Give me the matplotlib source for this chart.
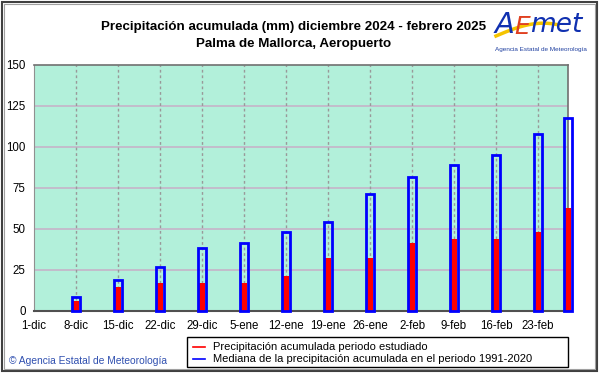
import matplotlib
matplotlib.use("Agg")
import matplotlib.pyplot as plt
from matplotlib.patches import Rectangle
from matplotlib.lines import Line2D
import numpy as np

plt.rcParams['font.family'] = ['Liberation Sans', 'DejaVu Sans']

# ---- data ----
tick_days = [0, 7, 14, 21, 28, 35, 42, 49, 56, 63, 70, 77, 84]
tick_labels = ["1-dic", "8-dic", "15-dic", "22-dic", "29-dic", "5-ene", "12-ene",
               "19-ene", "26-ene", "2-feb", "9-feb", "16-feb", "23-feb"]
bar_days = [7, 14, 21, 28, 35, 42, 49, 56, 63, 70, 77, 84, 89]
observed = [6.1, 14.4, 16.7, 16.7, 16.9, 21.1, 32.3, 32.3, 41.3, 43.7, 43.7, 47.8, 62.6]
median = [8.6, 19.0, 26.7, 38.3, 41.4, 47.7, 54.0, 70.9, 81.6, 89.0, 95.1, 107.7, 117.8]
yticks = [0, 25, 50, 75, 100, 125, 150]

W, H = 601, 374
fig = plt.figure(figsize=(W / 100, H / 100), dpi=100)
fig.patch.set_facecolor("white")

def fx(px):
    return px / W

def fy(py):
    return 1 - py / H

ax = fig.add_axes([fx(34), fy(310.7), fx(568) - fx(34), fy(64.7) - fy(310.7)])
ax.set_facecolor("#B2F0DA")
ax.set_xlim(0, 89)
ax.set_ylim(0, 150)

# grid
for y in yticks[1:-1]:
    ax.axhline(y, color="#C4B8CA", lw=1.3, zorder=1)
for d in tick_days[1:]:
    ax.axvline(d, color="#999999", lw=1.0, ls=(0, (2, 2)), zorder=1)

# bars
ax.bar(bar_days, observed, width=1.0, color="#FF0000", zorder=3, clip_on=False)
ax.bar(bar_days, median, width=1.35, facecolor="none", edgecolor="#0000FF",
       lw=2.0, zorder=4, clip_on=False)

ax.set_xticks(tick_days)
ax.set_xticklabels(tick_labels, fontsize=8.3)
ax.set_yticks(yticks)
ax.set_yticklabels([str(v) for v in yticks], fontsize=8.3)
ax.tick_params(length=0, pad=6)
ax.tick_params(axis="x", pad=7)
for s in ["top", "right"]:
    ax.spines[s].set_color("#707070")
    ax.spines[s].set_linewidth(1.2)
ax.spines["left"].set_color("#909090")
ax.spines["bottom"].set_color("#505050")
ax.spines["bottom"].set_linewidth(1.5)

# title
fig.text(fx(294), fy(27), "Precipitación acumulada (mm) diciembre 2024 - febrero 2025",
         ha="center", va="center", fontsize=9.6, fontweight="bold")
fig.text(fx(294), fy(44), "Palma de Mallorca, Aeropuerto",
         ha="center", va="center", fontsize=9.6, fontweight="bold")

# logo
fig.text(fx(495), fy(25), "A", color="#1030B0", fontsize=21, style="italic",
         ha="left", va="center", family="DejaVu Sans")
fig.text(fx(514), fy(27), "E", color="#E04020", fontsize=18, style="italic",
         ha="left", va="center", family="DejaVu Sans")
fig.text(fx(530), fy(25), "met", color="#1030B0", fontsize=19, style="italic",
         ha="left", va="center", family="DejaVu Sans")
t = np.linspace(0, 1, 40)
lx = 496 + 62 * t
ly = 36 - 16 * np.sin(t * np.pi * 0.6) + 4 * t
fig.add_artist(Line2D(fx(lx), fy(ly), color="#F5C400", lw=2.5))
fig.text(fx(541), fy(50), "Agencia Estatal de Meteorología", color="#2040A0",
         fontsize=4.6, ha="center", va="center")

# copyright
fig.text(fx(9), fy(361), "© Agencia Estatal de Meteorología", color="#3050B0",
         fontsize=7.4, ha="left", va="center")

# legend box
fig.add_artist(Rectangle((fx(187), fy(367)), fx(568) - fx(187), fy(337) - fy(367),
                         transform=fig.transFigure, facecolor="white",
                         edgecolor="black", lw=1.0))
fig.add_artist(Line2D([fx(193), fx(205)], [fy(347), fy(347)], color="#FF0000", lw=1.2))
fig.add_artist(Line2D([fx(193), fx(205)], [fy(359), fy(359)], color="#0000FF", lw=1.2))
fig.text(fx(213), fy(347), "Precipitación acumulada periodo estudiado",
         fontsize=8.0, ha="left", va="center")
fig.text(fx(213), fy(359), "Mediana de la precipitación acumulada en el periodo 1991-2020",
         fontsize=8.0, ha="left", va="center")

# outer frame
fig.add_artist(Rectangle((fx(2), fy(371)), fx(597) - fx(2), fy(2) - fy(371),
                         transform=fig.transFigure, facecolor="none",
                         edgecolor="#404040", lw=1.5))
fig.add_artist(Rectangle((fx(4), fy(369)), fx(595) - fx(4), fy(4) - fy(369),
                         transform=fig.transFigure, facecolor="none",
                         edgecolor="#A0A0A0", lw=0.8))

fig.savefig("out.png", dpi=100)
